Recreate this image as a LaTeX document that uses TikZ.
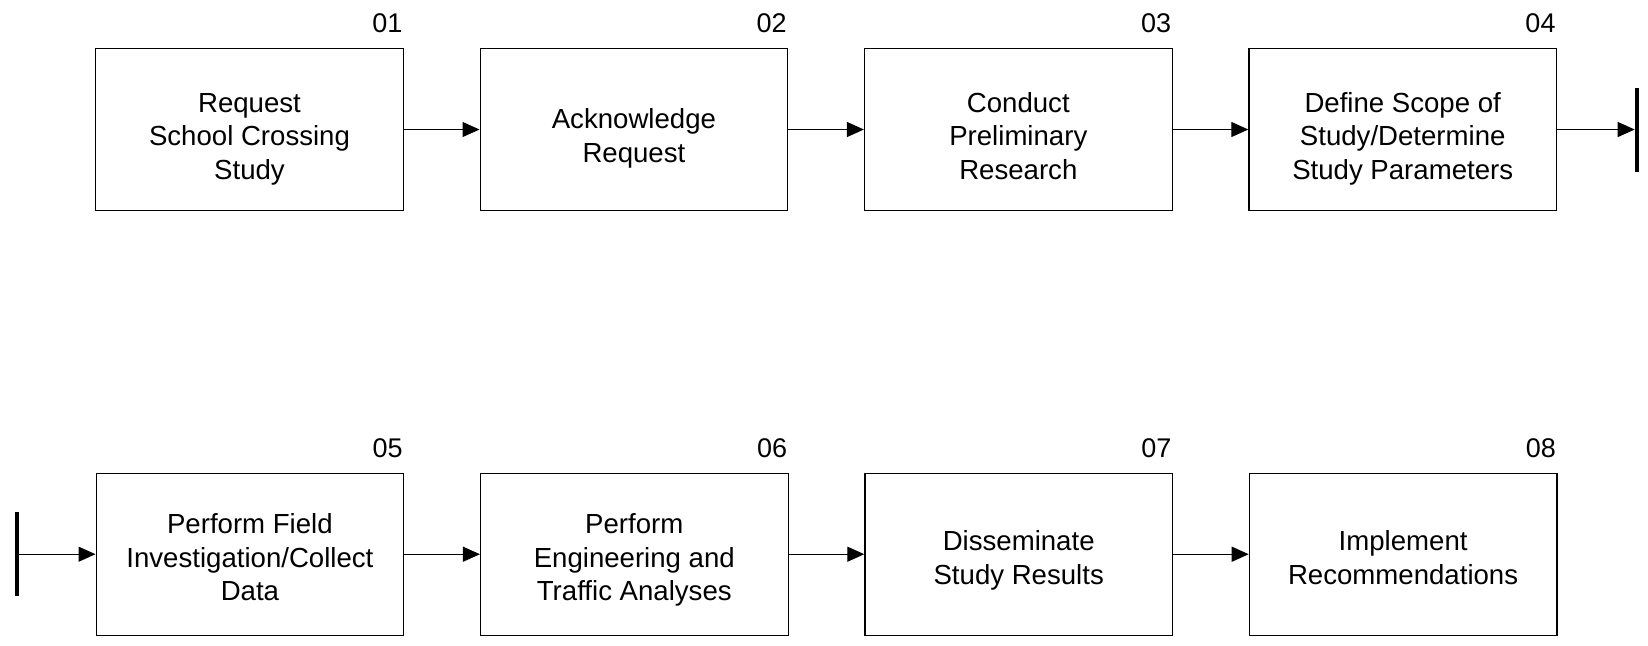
\documentclass[tikz,border=0pt]{standalone}
\usepackage{fontspec}
\setmainfont{Liberation Sans}
\usetikzlibrary{positioning,arrows.meta}

\tikzset{
  stepbox/.style={draw, line width=0.6pt, minimum width=153.8pt, minimum height=81pt, inner sep=0pt},
  steptext/.style={align=center, inner sep=0pt, font=\fontsize{13.8}{16.8}\selectfont},
  numlabel/.style={anchor=base east, inner sep=0pt, font=\fontsize{13.5}{15}\selectfont},
  flow/.style={line width=0.6pt, -{Triangle[length=8.5pt,width=7.5pt]}},
  endbar/.style={line width=2pt}
}

\begin{document}
\begin{tikzpicture}[x=0.5pt,y=-0.5pt]
\useasboundingbox (0,0) rectangle (1648,645);

% first row
\node[stepbox] (s1) at (249.5,129.5) {};
\node[stepbox, right=37.8pt of s1] (s2) {};
\node[stepbox, right=37.8pt of s2] (s3) {};
\node[stepbox, right=37.8pt of s3] (s4) {};

% second row
\node[stepbox] (s5) at (249.9,554.2) {};
\node[stepbox, right=37.8pt of s5] (s6) {};
\node[stepbox, right=37.8pt of s6] (s7) {};
\node[stepbox, right=37.8pt of s7] (s8) {};

% box texts
\node[steptext] (t1) at ([yshift=-4.7pt]s1.center) {\strut Request\\School Crossing\\Study\strut};
\node[steptext] (t2) at ([yshift=-4.7pt]s2.center) {\strut Acknowledge\\Request\strut};
\node[steptext] (t3) at ([yshift=-4.7pt]s3.center) {\strut Conduct\\Preliminary\\Research\strut};
\node[steptext] (t4) at ([yshift=-4.7pt]s4.center) {\strut Define Scope of\\Study/Determine\\Study Parameters\strut};
\node[steptext] (t5) at ([yshift=-3.2pt]s5.center) {\strut Perform Field\\Investigation/Collect\\Data\strut};
\node[steptext] (t6) at ([yshift=-3.2pt]s6.center) {\strut Perform\\Engineering and\\Traffic Analyses\strut};
\node[steptext] (t7) at ([yshift=-3.2pt]s7.center) {\strut Disseminate\\Study Results\strut};
\node[steptext] (t8) at ([yshift=-3.2pt]s8.center) {\strut Implement\\Recommendations\strut};

% step numbers
\foreach \i in {1,...,8}
  \node[numlabel] (n\i) at ([xshift=-0.6pt,yshift=7.8pt]s\i.north east) {0\i};

% connectors
\draw[flow] (s1) -- (s2);
\draw[flow] (s2) -- (s3);
\draw[flow] (s3) -- (s4);
\draw[flow] (s5) -- (s6);
\draw[flow] (s6) -- (s7);
\draw[flow] (s7) -- (s8);

% page break marks
\coordinate (end1) at (1636.7,129.5);
\draw[endbar] ([yshift=21pt]end1) -- ([yshift=-21pt]end1);
\draw[flow, shorten >=1pt] (s4.east) -- (end1);

\coordinate (start5) at (17.3,554.2);
\draw[endbar] ([yshift=21pt]start5) -- ([yshift=-21pt]start5);
\draw[flow] (start5) -- (s5.west);
\end{tikzpicture}
\end{document}
